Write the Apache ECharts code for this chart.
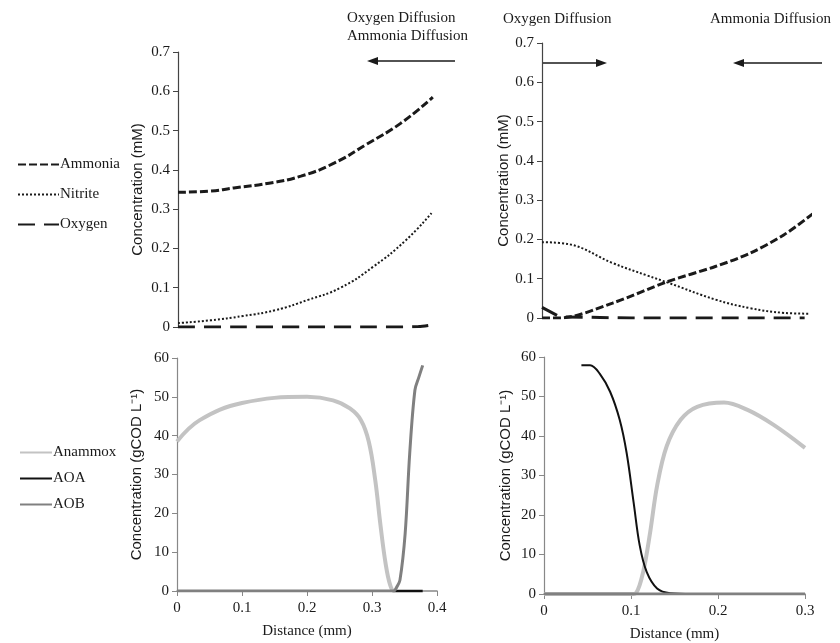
<!DOCTYPE html>
<html>
<head>
<meta charset="utf-8">
<style>
  html, body { margin: 0; padding: 0; background: #fff; }
  #chart { width: 840px; height: 643px; }
</style>
<script src="https://cdn.jsdelivr.net/npm/echarts@6/dist/echarts.min.js"></script>
</head>
<body>
<div id="chart"></div>
<script>
// top left: concentrations (mM)
var tlAmmoniaX = [0, 0.05, 0.086, 0.14, 0.189, 0.24, 0.29, 0.343, 0.392];
var tlAmmoniaY = [0.343, 0.346, 0.354, 0.366, 0.384, 0.417, 0.465, 0.519, 0.585];
var tlNitriteX = [0, 0.05, 0.1, 0.15, 0.2, 0.25, 0.3, 0.35, 0.39];
var tlNitriteY = [0.01, 0.017, 0.028, 0.043, 0.069, 0.1, 0.153, 0.22, 0.29];
var tlOxygenX = [0, 0.1, 0.2, 0.3, 0.37, 0.385];
var tlOxygenY = [0, 0, 0, 0, 0.001, 0.004];

// top right
var trAmmoniaX = [0, 0.02, 0.079, 0.141, 0.194, 0.233, 0.271, 0.303];
var trAmmoniaY = [0, 0, 0.038, 0.093, 0.131, 0.165, 0.212, 0.265];
var trNitriteX = [0, 0.03, 0.079, 0.118, 0.141, 0.194, 0.233, 0.271, 0.3];
var trNitriteY = [0.193, 0.188, 0.14, 0.108, 0.09, 0.047, 0.025, 0.013, 0.011];
var trOxygenX = [0, 0.02, 0.1, 0.2, 0.294];
var trOxygenY = [0.027, 0.003, 0, 0, 0];

// bottom left: biomass (gCOD/L)
var blAnammoxX = [0, 0.035, 0.1, 0.2, 0.24, 0.266, 0.283, 0.295, 0.305, 0.313, 0.321, 0.328, 0.334, 0.34, 0.378];
var blAnammoxY = [38.5, 44, 48.4, 50, 49.1, 47, 44, 38.5, 28.5, 17, 7, 1.5, 0, 0, 0];
var blAOAX = [0, 0.2, 0.378];
var blAOAY = [0, 0, 0];
var blAOBX = [0, 0.1, 0.2, 0.3, 0.333, 0.338, 0.343, 0.351, 0.358, 0.366, 0.372, 0.378];
var blAOBY = [0, 0, 0, 0, 0, 1, 2.8, 14.8, 35.4, 51.7, 55, 58.1];

// bottom right
var brAnammoxX = [0, 0.1, 0.106, 0.114, 0.122, 0.13, 0.141, 0.157, 0.176, 0.207, 0.234, 0.264, 0.3];
var brAnammoxY = [0, 0, 0.3, 5.6, 15.6, 27.4, 37.4, 44.1, 47.4, 48.5, 46.6, 42.8, 37];
var brAOAX = [0.043, 0.053, 0.064, 0.076, 0.087, 0.095, 0.103, 0.11, 0.118, 0.13, 0.145, 0.17, 0.3];
var brAOAY = [57.9, 57.9, 55.8, 51.2, 44.1, 35.7, 23.2, 12.3, 5.6, 1.4, 0.2, 0, 0];
var brAOBX = [0, 0.3];
var brAOBY = [0, 0];

var serif = '"Liberation Serif", "Times New Roman", serif';
var sans = '"Liberation Sans", Arial, sans-serif';
var ink = '#1a1a1a';

function pairs(xs, ys) {
  var out = [];
  for (var i = 0; i < xs.length; i++) out.push([xs[i], ys[i]]);
  return out;
}

var ammoniaStyle = { color: ink, width: 3, type: [8, 3] };
var nitriteStyle = { color: ink, width: 2, type: [2, 2] };
var oxygenStyle = { color: ink, width: 3, type: [17, 9] };
var anammoxStyle = { color: '#c3c3c3', width: 4, type: 'solid' };
var aoaStyle = { color: '#111', width: 2, type: 'solid' };
var aobStyle = { color: '#808080', width: 3, type: 'solid' };

function line(name, xi, data, style, smooth) {
  return {
    name: name, type: 'line', xAxisIndex: xi, yAxisIndex: xi,
    data: data, showSymbol: false, symbol: 'none',
    smooth: smooth,
    lineStyle: style, itemStyle: { color: style.color },
    emphasis: { disabled: true }, z: 2
  };
}

function yAx(gi, max, interval, name, color, fmt, gap) {
  return {
    gridIndex: gi, type: 'value', min: 0, max: max, interval: interval,
    name: name, nameLocation: 'middle', nameGap: gap,
    nameTextStyle: { fontFamily: sans, fontSize: 15, color: ink },
    axisLine: { show: true, lineStyle: { color: color, width: 1.2 } },
    axisTick: { show: true, length: 5, lineStyle: { color: color } },
    axisLabel: { fontFamily: serif, fontSize: 15, color: ink, margin: 8, formatter: fmt },
    splitLine: { show: false }
  };
}

function xAx(gi, max, show) {
  return {
    gridIndex: gi, type: 'value', min: 0, max: max, interval: 0.1, show: show,
    name: 'Distance (mm)', nameLocation: 'middle', nameGap: 33,
    nameTextStyle: { fontFamily: serif, fontSize: 15, color: ink },
    axisLine: { show: true, onZero: false, lineStyle: { color: '#888', width: 1.5 } },
    axisTick: { show: true, length: 5, lineStyle: { color: '#888' } },
    axisLabel: { fontFamily: serif, fontSize: 15, color: ink, margin: 10,
      formatter: function (v) { return v === 0 ? '0' : v.toFixed(1); } },
    splitLine: { show: false }
  };
}

var fmt1 = function (v) { return v === 0 ? '0' : v.toFixed(1); };

function arrow(x1, x2, y) {
  var dir = x2 > x1 ? 1 : -1;
  return [
    { type: 'line', shape: { x1: x1, y1: y, x2: x2 - dir * 8, y2: y }, style: { stroke: ink, lineWidth: 1.5 } },
    { type: 'polygon', shape: { points: [[x2, y], [x2 - dir * 11, y - 4], [x2 - dir * 11, y + 4]] }, style: { fill: ink } }
  ];
}

function label(text, x, y) {
  return { type: 'text', x: x, y: y, style: { text: text, font: '15px ' + serif, fill: ink } };
}

var legendBase = {
  orient: 'vertical', selectedMode: false, itemHeight: 14,
  itemStyle: { opacity: 0 },
  textStyle: { fontFamily: serif, fontSize: 15, color: ink, padding: [0, 0, 0, -4] }
};

var chart = echarts.init(document.getElementById('chart'));
chart.setOption({
  backgroundColor: '#fff',
  animation: false,
  grid: [
    { left: 178, top: 52, width: 260, bottom: 316 },
    { left: 542, top: 43, right: 30, bottom: 325 },
    { left: 177, top: 358, width: 260, bottom: 52 },
    { left: 544, top: 357, right: 35, bottom: 47 }
  ],
  xAxis: [xAx(0, 0.4, false), xAx(1, 0.3, false), xAx(2, 0.4, true), xAx(3, 0.3, true)],
  yAxis: [
    yAx(0, 0.7, 0.1, 'Concentration (mM)', '#444', fmt1, 33),
    yAx(1, 0.7, 0.1, 'Concentration (mM)', '#444', fmt1, 27),
    yAx(2, 60, 10, 'Concentration (gCOD L\u207B\u00B9)', '#888', null, 33),
    yAx(3, 60, 10, 'Concentration (gCOD L\u207B\u00B9)', '#888', null, 31)
  ],
  legend: [
    Object.assign({}, legendBase, {
      data: ['Ammonia', 'Nitrite', 'Oxygen'], left: 12, top: 152,
      itemWidth: 41, itemGap: 15
    }),
    Object.assign({}, legendBase, {
      data: ['Anammox', 'AOA', 'AOB'], left: 14, top: 440,
      itemWidth: 32, itemGap: 11
    })
  ],
  graphic: [].concat(
    arrow(455, 367, 61),
    arrow(542, 607, 63),
    arrow(822, 733, 63),
    [
      label('Oxygen Diffusion', 347, 11),
      label('Ammonia Diffusion', 347, 29),
      label('Oxygen Diffusion', 503, 12),
      label('Ammonia Diffusion', 710, 12)
    ]
  ),
  series: [
    line('Ammonia', 0, pairs(tlAmmoniaX, tlAmmoniaY), ammoniaStyle, 0.5),
    line('Nitrite', 0, pairs(tlNitriteX, tlNitriteY), nitriteStyle, 0.5),
    line('Oxygen', 0, pairs(tlOxygenX, tlOxygenY), oxygenStyle, 0.3),
    line('Ammonia', 1, pairs(trAmmoniaX, trAmmoniaY), ammoniaStyle, 0.3),
    line('Nitrite', 1, pairs(trNitriteX, trNitriteY), nitriteStyle, 0.4),
    line('Oxygen', 1, pairs(trOxygenX, trOxygenY), oxygenStyle, false),
    line('Anammox', 2, pairs(blAnammoxX, blAnammoxY), anammoxStyle, 0.4),
    line('AOA', 2, pairs(blAOAX, blAOAY), aoaStyle, false),
    line('AOB', 2, pairs(blAOBX, blAOBY), aobStyle, 0.35),
    line('Anammox', 3, pairs(brAnammoxX, brAnammoxY), anammoxStyle, 0.35),
    line('AOA', 3, pairs(brAOAX, brAOAY), aoaStyle, 0.35),
    line('AOB', 3, pairs(brAOBX, brAOBY), aobStyle, false)
  ]
});
</script>
</body>
</html>
